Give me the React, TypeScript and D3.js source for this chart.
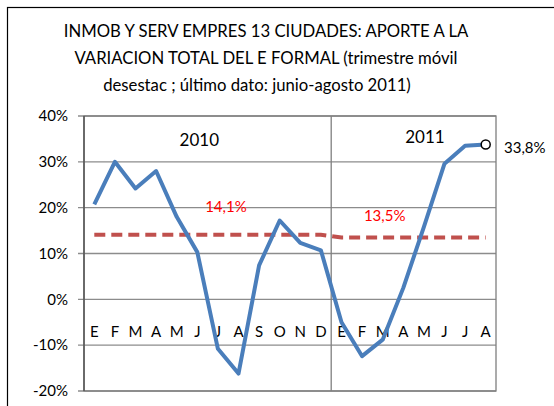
import React, { useEffect, useRef } from 'react';
import * as d3 from 'd3';

// Months: 2010 E..D, 2011 E..A
const months = ['E', 'F', 'M', 'A', 'M', 'J', 'J', 'A', 'S', 'O', 'N', 'D', 'E', 'F', 'M', 'A', 'M', 'J', 'J', 'A'];
const aporte = [20.7, 30.0, 24.2, 28.0, 18.0, 10.3, -10.8, -16.2, 7.4, 17.2, 12.3, 10.7, -5.0, -12.4, -8.8, 2.5, 15.8, 29.6, 33.5, 33.8];
const promedio = [14.1, 14.1, 14.1, 14.1, 14.1, 14.1, 14.1, 14.1, 14.1, 14.1, 14.1, 14.1, 13.5, 13.5, 13.5, 13.5, 13.5, 13.5, 13.5, 13.5];
const yTicks = [40, 30, 20, 10, 0, -10, -20];
const titleLines = [
  'INMOB Y SERV EMPRES 13 CIUDADES: APORTE A LA',
  'VARIACION TOTAL DEL E FORMAL (trimestre móvil',
  'desestac ; último dato: junio-agosto 2011)',
];
const years = ['2010', '2011'];
const avgLabels = ['14,1%', '13,5%'];
const lastLabel = '33,8%';

const FONT = 'Lato, "Open Sans", sans-serif';

const App = () => {
  const svgRef = useRef<SVGSVGElement | null>(null);

  useEffect(() => {
    if (!svgRef.current) return;
    const svg = d3.select(svgRef.current);
    svg.selectAll('*').remove();

    const W = 554;
    const H = 406;
    const margin = { top: 116, right: 58, bottom: 15, left: 84 };
    const width = W - margin.left - margin.right;
    const height = H - margin.top - margin.bottom;

    // outer chart frame (extends past the window on right/bottom)
    svg.append('rect')
      .attr('x', 7.5).attr('y', 7.5)
      .attr('width', 600).attr('height', 500)
      .attr('fill', '#fff')
      .attr('stroke', '#000')
      .attr('stroke-width', 1.2);

    // title
    const title = svg.append('text')
      .attr('text-anchor', 'middle')
      .style('font-family', FONT)
      .style('font-size', '16.7px')
      .style('fill', '#000');
    titleLines.forEach((line, i) => {
      title.append('tspan')
        .attr('x', i === 2 ? 257 : 266)
        .attr('y', 37 + i * 27)
        .text(line);
    });

    const g = svg.append('g')
      .attr('transform', `translate(${margin.left},${margin.top})`);

    const x = d3.scaleBand<number>()
      .domain(d3.range(months.length))
      .range([0, width]);
    const xc = (i: number) => (x(i) as number) + x.bandwidth() / 2;

    const y = d3.scaleLinear()
      .domain([-20, 40])
      .range([height, 0]);

    // horizontal grid
    g.selectAll('.grid-y')
      .data(yTicks)
      .enter().append('line')
      .attr('x1', -6)
      .attr('x2', width)
      .attr('y1', d => y(d))
      .attr('y2', d => y(d))
      .attr('stroke', '#8c8c8c')
      .attr('stroke-width', 1.3);

    // plot border + year divider
    g.append('rect')
      .attr('x', 0).attr('y', 0)
      .attr('width', width).attr('height', height)
      .attr('fill', 'none')
      .attr('stroke', '#7f7f7f')
      .attr('stroke-width', 1.3);

    g.append('line')
      .attr('x1', x(12) as number).attr('x2', x(12) as number)
      .attr('y1', 0).attr('y2', height)
      .attr('stroke', '#7f7f7f')
      .attr('stroke-width', 1.3);

    g.append('line')
      .attr('x1', 0).attr('x2', 0)
      .attr('y1', 0).attr('y2', height)
      .attr('stroke', '#555')
      .attr('stroke-width', 1.5);

    // y tick labels
    g.selectAll('.ylab')
      .data(yTicks)
      .enter().append('text')
      .attr('x', -16)
      .attr('y', d => y(d))
      .attr('dy', '0.35em')
      .attr('text-anchor', 'end')
      .style('font-family', FONT)
      .style('font-size', '15px')
      .style('fill', '#000')
      .text(d => `${d}%`);

    // month labels inside the plot
    g.selectAll('.month')
      .data(months)
      .enter().append('text')
      .attr('x', (d, i) => xc(i))
      .attr('y', y(-7))
      .attr('dy', '0.35em')
      .attr('text-anchor', 'middle')
      .style('font-family', FONT)
      .style('font-size', '15px')
      .style('fill', '#000')
      .text(d => d);

    // year labels
    g.selectAll('.year')
      .data(years)
      .enter().append('text')
      .attr('x', (d, i) => (i === 0 ? xc(5) + 2 : xc(16) + 1))
      .attr('y', (d, i) => y(i === 0 ? 34.8 : 35.3))
      .attr('dy', '0.35em')
      .attr('text-anchor', 'middle')
      .style('font-family', FONT)
      .style('font-size', '17px')
      .style('fill', '#000')
      .text(d => d);

    // average (dashed) line
    const line = d3.line<number>()
      .x((d, i) => xc(i))
      .y(d => y(d));

    g.append('path')
      .datum(promedio)
      .attr('fill', 'none')
      .attr('stroke', '#C0504D')
      .attr('stroke-width', 4)
      .attr('stroke-dasharray', '11,6')
      .attr('d', line);

    // average labels
    g.selectAll('.avg')
      .data(avgLabels)
      .enter().append('text')
      .attr('x', (d, i) => (i === 0 ? xc(6) + 8 : xc(14) + 2))
      .attr('y', (d, i) => y(i === 0 ? 20.1 : 18.2))
      .attr('dy', '0.35em')
      .attr('text-anchor', 'middle')
      .style('font-family', FONT)
      .style('font-size', '15px')
      .style('fill', '#ff0000')
      .text(d => d);

    // main series
    g.append('path')
      .datum(aporte)
      .attr('fill', 'none')
      .attr('stroke', '#4A7EBB')
      .attr('stroke-width', 4)
      .attr('stroke-linejoin', 'round')
      .attr('d', line);

    const last = aporte.length - 1;
    g.append('circle')
      .attr('cx', xc(last))
      .attr('cy', y(aporte[last]))
      .attr('r', 4.5)
      .attr('fill', '#fff')
      .attr('stroke', '#000')
      .attr('stroke-width', 1.5);

    g.append('text')
      .attr('x', width + 8)
      .attr('y', y(aporte[last]) + 3)
      .attr('dy', '0.35em')
      .style('font-family', FONT)
      .style('font-size', '15px')
      .style('fill', '#000')
      .text(lastLabel);
  }, []);

  return (
    <svg
      ref={svgRef}
      width={554}
      height={406}
      style={{ position: 'absolute', left: 0, top: 0, background: '#fff' }}
    />
  );
};

export default App;
